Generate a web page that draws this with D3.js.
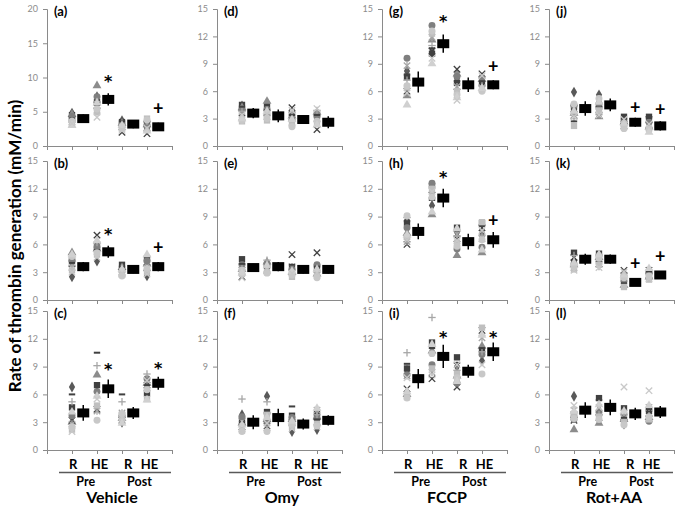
<!DOCTYPE html>
<html><head><meta charset="utf-8">
<script src="https://cdn.jsdelivr.net/npm/d3@7"></script>
<style>
html,body{margin:0;padding:0;background:#fff;}
svg{display:block;font-family:Lato,"Open Sans",sans-serif;}
</style></head>
<body><svg id="chart" width="675" height="506"></svg>
<script>
// ---------- data ----------
const categories = ["R", "HE", "R", "HE"];
const phases = ["Pre", "Post"];
const treatments = ["Vehicle", "Omy", "FCCP", "Rot+AA"];
const panelLabels = [["(a)","(b)","(c)"],["(d)","(e)","(f)"],["(g)","(h)","(i)"],["(j)","(k)","(l)"]];
const yTicksA = [0, 5, 10, 15, 20];
const yTicksStd = [0, 3, 6, 9, 12, 15];

// individual subjects, 12 per group (Pre R, Pre HE, Post R, Post HE)
const pointsA = [[4.8,4.5,4.6,3.9,3.5,4.3,3.7,4.0,3.2,3.6,3.0,3.3],[7.2,6.4,8.8,5.9,5.2,7.2,6.5,6.0,4.9,5.4,6.3,4.2],[3.7,3.5,3.3,2.0,2.6,3.2,2.9,3.6,2.8,2.5,3.0,2.3],[2.5,3.3,3.1,1.8,2.7,2.9,3.6,3.5,4.0,3.8,2.2,2.6]];
const pointsB = [[2.5,4.4,5.1,3.9,3.5,4.3,3.7,4.0,3.2,4.7,4.9,3.0],[4.2,6.0,5.5,7.0,5.8,5.7,6.2,5.4,4.9,5.1,6.4,4.6],[3.2,3.8,3.5,3.0,2.8,3.1,3.4,3.6,2.7,2.6,3.3,2.9],[2.6,4.4,3.9,3.5,4.0,4.2,3.2,4.7,3.0,3.4,4.9,2.8]];
const pointsC = [[6.8,4.6,3.0,3.2,2.8,3.7,5.2,6.0,2.2,2.5,4.1,2.0],[6.3,7.0,8.1,4.4,4.2,6.3,9.1,10.5,4.8,3.2,5.8,5.5],[3.0,3.8,3.4,3.2,4.0,3.6,5.2,6.0,3.3,3.9,2.9,3.5],[6.4,6.1,7.2,7.0,6.7,7.7,8.2,7.0,5.5,6.5,5.4,7.5]];
const pointsD = [[4.4,4.5,4.2,3.6,3.2,4.0,3.8,4.3,2.7,2.8,3.0,3.4],[4.6,4.3,4.9,3.6,3.2,4.0,3.4,3.9,2.8,3.0,3.8,3.5],[3.0,3.5,3.3,4.2,2.6,2.8,3.7,3.4,2.4,2.1,2.9,3.9],[2.8,3.5,3.7,1.8,3.0,3.2,3.9,3.4,2.5,2.7,2.3,4.1]];
const pointsE = [[3.0,4.4,3.3,2.5,3.6,3.8,3.5,3.9,2.8,3.2,2.9,2.4],[3.6,3.8,4.1,3.2,3.4,3.9,4.3,3.5,3.0,2.9,3.7,3.3],[3.2,3.4,3.0,4.9,3.6,3.3,2.8,3.8,2.5,2.7,3.1,2.9],[3.1,3.4,2.8,5.1,3.5,3.8,3.0,3.6,2.6,2.4,3.3,2.9]];
const pointsF = [[3.8,3.4,2.9,2.5,3.1,3.6,5.5,3.0,2.1,2.0,2.7,2.3],[5.8,4.1,3.3,2.6,2.4,3.1,5.2,4.0,3.8,2.0,3.5,2.9],[2.0,3.7,3.3,3.0,2.9,3.5,3.2,4.7,2.5,2.8,3.1,2.3],[2.2,3.9,3.6,3.0,4.3,3.4,3.8,3.3,2.8,2.6,4.5,2.5]];
const pointsG = [[8.2,7.6,5.5,6.0,8.8,9.6,7.2,7.8,6.4,6.6,4.5,5.8],[10.3,10.1,11.6,10.4,11.9,13.2,11.0,10.7,12.3,12.6,9.0,9.6],[7.4,6.9,7.9,8.4,6.5,7.6,6.2,7.1,6.0,5.6,5.3,5.0],[7.0,6.8,7.3,7.9,6.4,7.5,6.6,7.1,6.2,6.0,6.3,7.7]];
const pointsH = [[8.6,8.3,7.2,6.0,6.3,7.8,8.9,8.5,6.8,9.1,7.0,6.5],[10.2,12.3,9.2,11.3,11.9,12.6,11.6,10.8,12.0,11.1,9.5,11.7],[7.3,7.8,4.8,6.6,7.1,5.5,6.9,7.5,6.2,5.8,7.7,6.4],[7.2,8.3,5.1,7.8,6.6,5.7,7.0,8.0,8.4,6.5,5.4,7.5]];
const pointsI = [[8.6,8.8,6.0,6.6,8.0,8.1,10.5,9.3,5.7,5.6,6.3,7.8],[11.2,11.6,10.7,7.7,8.4,9.2,14.3,11.0,8.8,10.4,11.4,8.1],[9.0,10.0,8.0,6.8,7.6,7.2,8.6,9.4,8.2,7.8,7.4,9.2],[9.6,10.8,11.2,12.9,12.1,10.3,10.6,11.0,13.2,8.2,12.4,9.2]];
const pointsJ = [[5.9,4.3,3.6,4.1,3.4,4.4,3.0,2.7,2.2,4.6,3.8,3.2],[5.6,4.4,3.2,4.0,3.7,4.6,3.5,4.2,3.9,5.2,4.8,3.4],[2.8,3.2,2.6,2.2,2.4,2.7,2.3,3.0,2.1,1.9,2.5,2.9],[2.6,3.2,2.1,2.9,2.3,2.6,2.0,3.1,1.9,1.8,1.5,2.4]];
const pointsK = [[4.2,5.1,3.8,4.6,3.5,3.9,4.8,4.3,3.3,3.6,4.0,3.2],[4.4,5.0,4.6,3.9,4.2,4.8,3.6,4.1,3.8,4.5,4.9,3.5],[1.9,2.6,1.6,3.2,2.3,2.1,2.9,1.8,1.4,2.4,2.7,3.0],[2.8,3.0,2.5,3.2,2.7,2.9,2.4,3.1,2.2,2.6,3.4,2.3]];
const pointsL = [[5.8,3.8,2.2,3.2,4.3,3.3,4.1,3.6,3.9,3.4,4.2,4.8],[4.3,5.6,2.9,3.5,4.0,4.1,3.8,5.4,3.6,3.3,4.9,4.6],[2.8,4.5,3.3,3.6,4.0,3.2,3.8,3.5,3.0,2.7,4.2,6.8],[4.0,4.2,3.5,3.9,4.6,3.1,3.7,4.4,3.3,3.6,4.8,6.4]];

// group means and error (half-length)
const meansA = [4.0, 6.8, 3.2, 2.8], errA = [0.6, 0.9, 0.6, 0.6];
const meansB = [3.6, 5.2, 3.3, 3.6], errB = [0.5, 0.65, 0.4, 0.5];
const meansC = [4.0, 6.6, 4.0, 7.2], errC = [0.85, 1.0, 0.65, 0.7];
const meansD = [3.6, 3.3, 2.9, 2.6], errD = [0.55, 0.7, 0.5, 0.65];
const meansE = [3.5, 3.6, 3.3, 3.3], errE = [0.4, 0.5, 0.45, 0.45];
const meansF = [3.0, 3.5, 2.8, 3.2], errF = [0.75, 0.95, 0.6, 0.55];
const meansG = [7.0, 11.2, 6.7, 6.7], errG = [1.15, 1.0, 0.8, 0.5];
const meansH = [7.4, 11.0, 6.3, 6.5], errH = [0.85, 1.0, 0.85, 0.85];
const meansI = [7.7, 10.1, 8.5, 10.6], errI = [1.05, 1.25, 0.7, 1.0];
const meansJ = [4.1, 4.5, 2.6, 2.2], errJ = [0.8, 0.7, 0.5, 0.5];
const meansK = [4.4, 4.4, 1.9, 2.7], errK = [0.6, 0.5, 0.4, 0.4];
const meansL = [4.3, 4.6, 3.9, 4.1], errL = [0.85, 0.85, 0.65, 0.65];

// significance markers: [group index, symbol, y value]
const sigA = [[1,"*",9.8],[3,"+",5.5]];
const sigB = [[1,"*",7.4],[3,"+",5.7]];
const sigC = [[1,"*",9.0],[3,"*",9.1]];
const sigD = [], sigE = [], sigF = [];
const sigG = [[1,"*",14.0],[3,"+",8.8]];
const sigH = [[1,"*",13.5],[3,"+",8.6]];
const sigI = [[1,"*",12.5],[3,"*",12.5]];
const sigJ = [[2,"+",4.3],[3,"+",4.0]];
const sigK = [[2,"+",4.0],[3,"+",4.8]];
const sigL = [];

// ---------- styles / layout ----------
const subjectStyle = [
  {m:"diamond", c:"#595959"},{m:"square", c:"#404040"},{m:"triangle", c:"#8c8c8c"},
  {m:"x", c:"#404040"},{m:"asterisk", c:"#a6a6a6"},{m:"circle", c:"#7f7f7f"},
  {m:"plus", c:"#a6a6a6"},{m:"dash", c:"#404040"},{m:"square", c:"#bfbfbf"},
  {m:"circle", c:"#c8c8c8"},{m:"triangle", c:"#d0d0d0"},{m:"x", c:"#c8c8c8"}
];
const colX = [47, 217, 382, 549];
const plotW = 125;
const rowTop = [9, 161, 311];
const rowBot = [146, 300, 450];

const panels = [
  [{p:pointsA,m:meansA,e:errA,s:sigA,t:yTicksA},{p:pointsB,m:meansB,e:errB,s:sigB,t:yTicksStd},{p:pointsC,m:meansC,e:errC,s:sigC,t:yTicksStd}],
  [{p:pointsD,m:meansD,e:errD,s:sigD,t:yTicksStd},{p:pointsE,m:meansE,e:errE,s:sigE,t:yTicksStd},{p:pointsF,m:meansF,e:errF,s:sigF,t:yTicksStd}],
  [{p:pointsG,m:meansG,e:errG,s:sigG,t:yTicksStd},{p:pointsH,m:meansH,e:errH,s:sigH,t:yTicksStd},{p:pointsI,m:meansI,e:errI,s:sigI,t:yTicksStd}],
  [{p:pointsJ,m:meansJ,e:errJ,s:sigJ,t:yTicksStd},{p:pointsK,m:meansK,e:errK,s:sigK,t:yTicksStd},{p:pointsL,m:meansL,e:errL,s:sigL,t:yTicksStd}]
];

const svg = d3.select("#chart");
const axisColor = "#8a8a8a";

function drawMarker(g, type, color, x, y) {
  const r = 3.2;
  if (type === "diamond" || type === "square" || type === "triangle" || type === "circle") {
    const sym = {diamond:d3.symbolDiamond, square:d3.symbolSquare, triangle:d3.symbolTriangle, circle:d3.symbolCircle}[type];
    const size = {diamond:34, square:40, triangle:34, circle:38}[type];
    g.append("path").attr("d", d3.symbol(sym, size)()).attr("transform", `translate(${x},${y})`).attr("fill", color);
  } else {
    const gg = g.append("g").attr("transform", `translate(${x},${y})`).attr("stroke", color).attr("stroke-width", 1.3).attr("fill","none");
    if (type === "x" || type === "asterisk") {
      gg.append("line").attr("x1",-r).attr("y1",-r).attr("x2",r).attr("y2",r);
      gg.append("line").attr("x1",-r).attr("y1",r).attr("x2",r).attr("y2",-r);
    }
    if (type === "asterisk") gg.append("line").attr("x1",0).attr("y1",-r-0.5).attr("x2",0).attr("y2",r+0.5);
    if (type === "plus") {
      gg.append("line").attr("x1",-r-0.5).attr("y1",0).attr("x2",r+0.5).attr("y2",0);
      gg.append("line").attr("x1",0).attr("y1",-r-0.5).attr("x2",0).attr("y2",r+0.5);
    }
    if (type === "dash") { gg.attr("stroke-width", 2); gg.append("line").attr("x1",-r).attr("y1",0).attr("x2",r).attr("y2",0); }
  }
}

panels.forEach((col, ci) => {
  col.forEach((pd, ri) => {
    const x = d3.scaleLinear().domain([0, 5]).range([colX[ci], colX[ci] + plotW]);
    const yMax = d3.max(pd.t);
    const y = d3.scaleLinear().domain([0, yMax]).range([rowBot[ri], rowTop[ri]]);
    const g = svg.append("g");

    // y axis
    const ya = g.append("g").attr("transform", `translate(${colX[ci]},0)`)
      .call(d3.axisLeft(y).tickValues(pd.t).tickSize(4).tickPadding(5));
    ya.select(".domain").attr("stroke", axisColor);
    ya.selectAll(".tick line").attr("stroke", axisColor);
    ya.selectAll(".tick text").attr("fill", "#8c8c8c").attr("font-size", 9).attr("font-family", "Lato, sans-serif");

    // x axis
    const xa = g.append("g").attr("transform", `translate(0,${rowBot[ri]})`)
      .call(d3.axisBottom(x).tickValues([1,2,3,4,5]).tickSize(4).tickFormat(""));
    xa.select(".domain").attr("stroke", axisColor);
    xa.selectAll(".tick line").attr("stroke", axisColor);

    // individual points
    pd.p.forEach((vals, gi) => {
      vals.forEach((v, si) => {
        const st = subjectStyle[si];
        drawMarker(g, st.m, st.c, x(gi + 1), y(v));
      });
    });

    // means with error bars
    pd.m.forEach((mv, gi) => {
      const cx = x(gi + 1.45);
      g.append("line").attr("x1", cx).attr("x2", cx)
        .attr("y1", y(mv - pd.e[gi])).attr("y2", y(mv + pd.e[gi]))
        .attr("stroke", "#000").attr("stroke-width", 1.5);
      g.append("rect").attr("x", cx - 6).attr("y", y(mv) - 4.5).attr("width", 12).attr("height", 9).attr("fill", "#000");
    });

    // significance symbols
    pd.s.forEach(([gi, sym, v]) => {
      const isStar = sym === "*";
      g.append("text").attr("x", x(gi + 1.45)).attr("y", y(v)).attr("text-anchor", "middle")
        .attr("dominant-baseline", "central")
        .attr("font-size", isStar ? 16 : 18).attr("font-weight", "bold")
        .attr("font-family", isStar ? "DejaVu Sans, sans-serif" : "Lato, sans-serif")
        .attr("fill", "#000").attr("stroke", "none")
        .attr("dy", isStar ? 3 : 0)
        .text(sym);
    });

    // panel label
    g.append("text").attr("x", colX[ci] + 7).attr("y", rowTop[ri] + 2).attr("dominant-baseline", "central")
      .attr("font-size", 13).attr("font-weight", "bold").attr("fill", "#000").text(panelLabels[ci][ri]);

    // bottom category labels
    if (ri === 2) {
      const catPos = [1.05, 2.1, 3.25, 4.1];
      categories.forEach((c, k) => {
        g.append("text").attr("x", x(catPos[k])).attr("y", 468.5).attr("text-anchor", "middle")
          .attr("font-size", 13).attr("font-weight", "bold").attr("fill", "#000").text(c);
      });
      g.append("line").attr("x1", colX[ci] + 12).attr("x2", colX[ci] + 124).attr("y1", 472.5).attr("y2", 472.5)
        .attr("stroke", "#595959").attr("stroke-width", 1.5);
      const phasePos = [1.55, 3.7];
      phases.forEach((p, k) => {
        g.append("text").attr("x", x(phasePos[k])).attr("y", 485.5).attr("text-anchor", "middle")
          .attr("font-size", 12.5).attr("font-weight", "bold").attr("fill", "#000").text(p);
      });
      g.append("text").attr("x", x(2.6)).attr("y", 502.5).attr("text-anchor", "middle")
        .attr("font-size", 16).attr("font-weight", "bold").attr("fill", "#000").text(treatments[ci]);
    }
  });
});

// y axis title
svg.append("text").attr("transform", "translate(21,246) rotate(-90)").attr("text-anchor", "middle")
  .attr("font-size", 17).attr("font-weight", "bold").attr("fill", "#000")
  .text("Rate of thrombin generation (mM/min)");
</script>
</body></html>
